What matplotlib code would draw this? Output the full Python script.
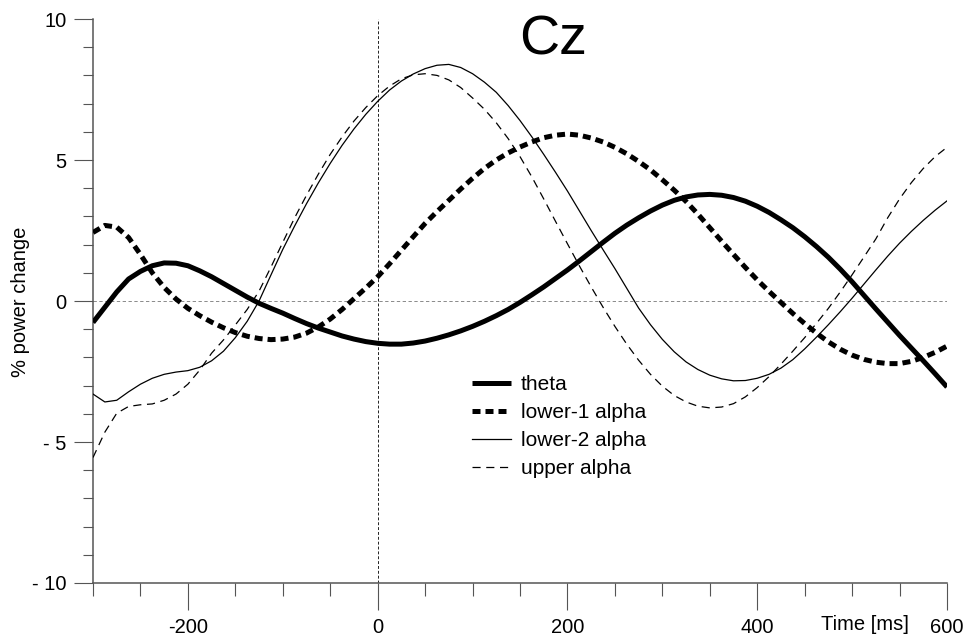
import matplotlib
matplotlib.use("Agg")
import matplotlib.pyplot as plt
from matplotlib.ticker import FixedLocator, FixedFormatter

plt.rcParams['font.family'] = ['Liberation Sans', 'DejaVu Sans']

# time axis, every 12.5 ms from -300 to 600
time_ms = [-300, -287.5, -275, -262.5, -250, -237.5, -225, -212.5, -200, -187.5, -175, -162.5,
           -150, -137.5, -125, -112.5, -100, -87.5, -75, -62.5, -50, -37.5, -25, -12.5,
           0, 12.5, 25, 37.5, 50, 62.5, 75, 87.5, 100, 112.5, 125, 137.5,
           150, 162.5, 175, 187.5, 200, 212.5, 225, 237.5, 250, 262.5, 275, 287.5,
           300, 312.5, 325, 337.5, 350, 362.5, 375, 387.5, 400, 412.5, 425, 437.5,
           450, 462.5, 475, 487.5, 500, 512.5, 525, 537.5, 550, 562.5, 575, 587.5, 600]

theta = [-0.76, -0.22, 0.32, 0.78, 1.05, 1.25, 1.35, 1.34, 1.25, 1.07, 0.86, 0.62,
         0.38, 0.14, -0.08, -0.26, -0.43, -0.62, -0.8, -0.96, -1.1, -1.24, -1.35, -1.44,
         -1.5, -1.53, -1.53, -1.49, -1.42, -1.32, -1.2, -1.06, -0.9, -0.72, -0.52, -0.3,
         -0.05, 0.22, 0.5, 0.8, 1.1, 1.42, 1.75, 2.08, 2.4, 2.69, 2.95, 3.19,
         3.4, 3.57, 3.69, 3.76, 3.78, 3.75, 3.67, 3.54, 3.36, 3.14, 2.88, 2.6,
         2.28, 1.93, 1.55, 1.13, 0.68, 0.2, -0.28, -0.75, -1.22, -1.67, -2.12, -2.58, -3.05]

lower1_alpha = [2.43, 2.68, 2.62, 2.25, 1.65, 1.0, 0.48, 0.07, -0.26, -0.52, -0.75, -0.95,
                -1.12, -1.25, -1.33, -1.37, -1.35, -1.28, -1.14, -0.92, -0.64, -0.3, 0.08, 0.46,
                0.86, 1.32, 1.8, 2.28, 2.75, 3.17, 3.57, 3.97, 4.35, 4.7, 5.0, 5.25,
                5.46, 5.64, 5.79, 5.88, 5.92, 5.88, 5.78, 5.64, 5.45, 5.22, 4.95, 4.65,
                4.3, 3.93, 3.53, 3.08, 2.6, 2.12, 1.65, 1.19, 0.75, 0.34, -0.05, -0.44,
                -0.8, -1.14, -1.45, -1.71, -1.92, -2.07, -2.17, -2.22, -2.22, -2.14, -2.0, -1.82, -1.6]

lower2_alpha = [-3.3, -3.58, -3.52, -3.22, -2.95, -2.74, -2.6, -2.52, -2.47, -2.35, -2.12, -1.78,
                -1.3, -0.72, 0.0, 0.92, 1.83, 2.66, 3.45, 4.19, 4.88, 5.52, 6.1, 6.62,
                7.08, 7.48, 7.8, 8.05, 8.24, 8.36, 8.39, 8.28, 8.06, 7.76, 7.4, 6.93,
                6.4, 5.82, 5.2, 4.56, 3.9, 3.2, 2.5, 1.82, 1.15, 0.45, -0.25, -0.84,
                -1.36, -1.8, -2.16, -2.43, -2.63, -2.76, -2.83, -2.82, -2.74, -2.6, -2.38, -2.08,
                -1.7, -1.28, -0.84, -0.38, 0.1, 0.6, 1.1, 1.59, 2.05, 2.47, 2.86, 3.22, 3.55]

upper_alpha = [-5.55, -4.65, -3.98, -3.74, -3.68, -3.65, -3.52, -3.3, -2.95, -2.45, -1.85, -1.38,
               -0.85, -0.3, 0.35, 1.2, 2.08, 2.95, 3.75, 4.5, 5.2, 5.82, 6.38, 6.86,
               7.28, 7.62, 7.88, 8.02, 8.06, 8.0, 7.84, 7.57, 7.2, 6.8, 6.32, 5.76,
               5.12, 4.4, 3.62, 2.82, 2.03, 1.25, 0.5, -0.22, -0.9, -1.53, -2.1, -2.6,
               -3.02, -3.35, -3.58, -3.73, -3.79, -3.76, -3.64, -3.4, -3.07, -2.68, -2.24, -1.78,
               -1.3, -0.79, -0.26, 0.32, 0.93, 1.56, 2.2, 2.95, 3.62, 4.2, 4.7, 5.12, 5.45]

series_labels = ["theta", "lower-1 alpha", "lower-2 alpha", "upper alpha"]
x_major = [-200, 0, 200, 400, 600]
x_major_labels = ["-200", "0", "200", "400", "600"]
x_minor = [-300, -250, -150, -100, -50, 50, 100, 150, 250, 300, 350, 450, 500, 550]
y_major = [-10, -5, 0, 5, 10]
y_major_labels = ["- 10", "- 5", "0", "5", "10"]
y_minor = [-9, -8, -7, -6, -4, -3, -2, -1, 1, 2, 3, 4, 6, 7, 8, 9]

W, H = 966, 638
fig = plt.figure(figsize=(W / 100, H / 100), dpi=100)
ax = fig.add_axes([93 / W, 1 - 583 / H, (947 - 93) / W, (583 - 19) / H])

spine_col = "#555555"
# reference lines
ax.axhline(0, color="#777777", lw=0.6, dashes=(4, 3), zorder=1)
ax.axvline(0, color="#222222", lw=0.7, dashes=(3, 2), zorder=1)

ax.plot(time_ms, theta, color="black", lw=3.6, solid_capstyle="butt", solid_joinstyle="round",
        label=series_labels[0], zorder=3)
ax.plot(time_ms, lower1_alpha, color="black", lw=3.6, dashes=(1.6, 1.0), dash_capstyle="butt",
        label=series_labels[1], zorder=3)
ax.plot(time_ms, lower2_alpha, color="black", lw=0.9, label=series_labels[2], zorder=3)
ax.plot(time_ms, upper_alpha, color="black", lw=0.9, dashes=(6.5, 4.5), label=series_labels[3], zorder=3)

ax.set_xlim(-300, 600)
ax.set_ylim(-10, 10)

for s in ["top", "right"]:
    ax.spines[s].set_visible(False)
for s in ["left", "bottom"]:
    ax.spines[s].set_color(spine_col)
    ax.spines[s].set_linewidth(1.1)

ax.xaxis.set_major_locator(FixedLocator(x_major))
ax.xaxis.set_major_formatter(FixedFormatter(x_major_labels))
ax.xaxis.set_minor_locator(FixedLocator(x_minor))
ax.yaxis.set_major_locator(FixedLocator(y_major))
ax.yaxis.set_major_formatter(FixedFormatter(y_major_labels))
ax.yaxis.set_minor_locator(FixedLocator(y_minor))

ax.tick_params(axis="x", which="major", direction="out", length=19.5, width=0.8, color=spine_col,
               labelsize=14.5, pad=6)
ax.tick_params(axis="x", which="minor", direction="out", length=9, width=0.8, color=spine_col)
ax.tick_params(axis="y", which="major", direction="out", length=14, width=0.8, color=spine_col,
               labelsize=14.5, pad=5)
ax.tick_params(axis="y", which="minor", direction="out", length=7, width=0.8, color=spine_col)

ax.text((553 - 93) / (947 - 93), (583 - 40) / (583 - 19), "Cz", transform=ax.transAxes,
        fontsize=40, ha="center", va="center")

fig.text(21 / W, 1 - 302 / H, "% power change", rotation=90, fontsize=14.5, ha="center", va="center")
fig.text(865 / W, 1 - 624 / H, "Time [ms]", fontsize=14.5, ha="center", va="center")

leg = ax.legend(loc="upper left", bbox_to_anchor=(472 / W, 1 - 375 / H), bbox_transform=fig.transFigure,
                frameon=False, fontsize=15, handlelength=1.85, handletextpad=0.5, labelspacing=0.43,
                borderpad=0, borderaxespad=0)

fig.savefig("out.png", dpi=100)
